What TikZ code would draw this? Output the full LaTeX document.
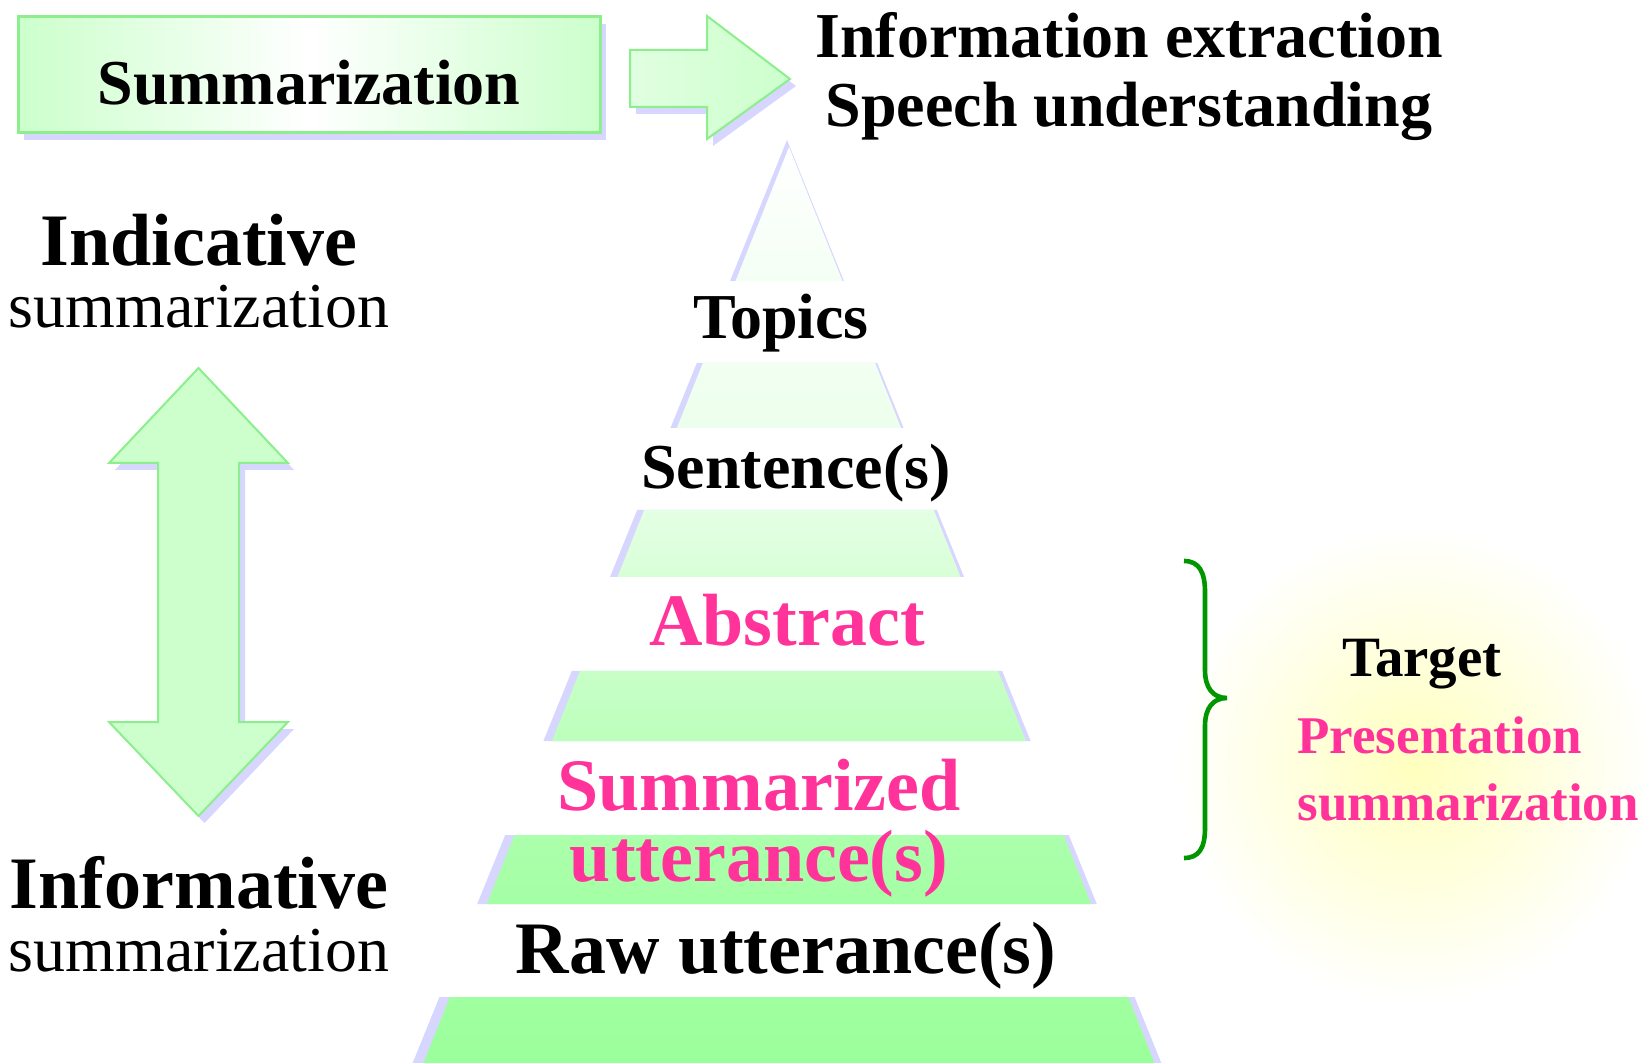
\documentclass[tikz,border=0pt]{standalone}
\usepackage{fontspec}
\setmainfont{Liberation Serif}
\definecolor{pinkt}{RGB}{255,51,153}
\definecolor{braceg}{RGB}{0,150,0}
\definecolor{edgeg}{RGB}{140,238,140}
\definecolor{lightg}{RGB}{204,255,204}
\definecolor{shadowc}{RGB}{214,214,255}
\definecolor{glowc}{RGB}{255,255,190}
% one band of the pyramid: top y, bottom y, top colour, bottom colour
\newcommand\pyrband[4]{%
  \pgfmathsetmacro\pbSLt{787-0.406*(#1-141)}%
  \pgfmathsetmacro\pbSRt{787+0.406*(#1-141)}%
  \pgfmathsetmacro\pbSLb{787-0.406*(#2-141)}%
  \pgfmathsetmacro\pbSRb{787+0.406*(#2-141)}%
  \pgfmathsetmacro\pbGLt{789-0.399*(#1-147)}%
  \pgfmathsetmacro\pbGRt{789+0.399*(#1-147)}%
  \pgfmathsetmacro\pbGLb{789-0.399*(#2-147)}%
  \pgfmathsetmacro\pbGRb{789+0.399*(#2-147)}%
  \fill[shadowc] (\pbSLt,#1) -- (\pbSRt,#1) -- (\pbSRb,#2) -- (\pbSLb,#2) -- cycle;
  \shade[top color=#3,bottom color=#4] (\pbGLt,#1) -- (\pbGRt,#1) -- (\pbGRb,#2) -- (\pbGLb,#2) -- cycle;
}
\begin{document}
\begin{tikzpicture}[x=0.5pt,y=-0.5pt,
  bigb/.style={font=\fontsize{37}{44}\selectfont\bfseries},
  midb/.style={font=\fontsize{32}{38}\selectfont\bfseries},
  midr/.style={font=\fontsize{32}{38}\selectfont},
  tgtb/.style={font=\fontsize{28.5}{34}\selectfont\bfseries},
  smallb/.style={font=\fontsize{26.5}{32}\selectfont\bfseries},
  lbl/.style={inner sep=0pt, anchor=base},
  shapeedge/.style={draw=edgeg, line width=1pt, line join=miter},
  shadowfill/.style={fill=shadowc, shift={(6,7)}}]
\useasboundingbox[fill=white] (0,0) rectangle (1644,1063);

% soft yellow glow behind the target text
\shade[inner color=glowc, outer color=white] (1415,765) circle (240);

% Summarization box
\fill[shadowfill] (18,17) rectangle (600,133);
\shade[left color=lightg, right color=lightg, middle color=white, draw=edgeg, line width=1.5pt]
  (18,17) rectangle (600,133);
\node[lbl,midb] (sumlabel) at (309,105) {Summarization};

% right arrow
\fill[shadowfill] (630,50) -- (707,50) -- (707,16) -- (790,79) -- (707,139) -- (707,107) -- (630,107) -- cycle;
\shade[left color=lightg!60!white, middle color=white, right color=lightg, shapeedge]
  (630,50) -- (707,50) -- (707,16) -- (790,79) -- (707,139) -- (707,107) -- (630,107) -- cycle;
\node[lbl,midb] (infoext) at (1129,58) {Information extraction};
\node[lbl,midb] (speech) at (1129,127) {Speech understanding};

% double arrow between indicative and informative
\fill[shadowfill] (198.5,368) -- (288,463) -- (239,463) -- (239,722) -- (288,722) -- (198.5,816)
  -- (109,722) -- (158,722) -- (158,463) -- (109,463) -- cycle;
\shade[top color=lightg, middle color=white, bottom color=lightg, shapeedge]
  (198.5,368) -- (288,463) -- (239,463) -- (239,722) -- (288,722) -- (198.5,816)
  -- (109,722) -- (158,722) -- (158,463) -- (109,463) -- cycle;
\node[lbl,bigb] (indic) at (199,266) {Indicative};
\node[lbl,midr] (indicsum) at (199,328) {summarization};
\node[lbl,bigb] (inform) at (199,908) {Informative};
\node[lbl,midr] (informsum) at (199,971) {summarization};

% pyramid: apex band
\fill[shadowc] (787,140) -- (843.9,281) -- (730.1,281) -- cycle;
\shade[top color=white, bottom color={rgb,255:red,244;green,255;blue,244}]
  (789,147) -- (842.5,281) -- (735.5,281) -- cycle;
% pyramid: lower bands
\pyrband{363}{428}{{rgb,255:red,242;green,255;blue,242}}{{rgb,255:red,236;green,255;blue,236}}
\pyrband{510}{577}{{rgb,255:red,228;green,255;blue,228}}{{rgb,255:red,216;green,255;blue,216}}
\pyrband{671}{741}{{rgb,255:red,200;green,255;blue,200}}{{rgb,255:red,188;green,255;blue,188}}
\pyrband{835}{904}{{rgb,255:red,172;green,255;blue,172}}{{rgb,255:red,164;green,255;blue,164}}
\pyrband{997}{1063}{{rgb,255:red,160;green,255;blue,160}}{{rgb,255:red,154;green,255;blue,154}}

% pyramid level labels
\node[lbl,midb] (topics) at (781,339) {Topics};
\node[lbl,midb] (sent) at (796,489) {Sentence(s)};
\node[lbl,bigb,text=pinkt] (abstr) at (787,646) {Abstract};
\node[lbl,bigb,text=pinkt] (summd) at (759,810) {Summarized};
\node[lbl,bigb,text=pinkt] (utter) at (759,881) {utterance(s)};
\node[lbl,bigb] (raw) at (786,973) {Raw utterance(s)};

% brace and target text
\draw[braceg, line width=2.3pt]
  (1184,561) .. controls (1199,561) and (1205,572) .. (1205,592)
  -- (1205,670) .. controls (1205,688) and (1213,698) .. (1227,698)
  .. controls (1213,698) and (1205,708) .. (1205,726)
  -- (1205,828) .. controls (1205,848) and (1199,858) .. (1184,858);
\node[lbl,tgtb] (target) at (1422,676) {Target};
\node[lbl,smallb,text=pinkt,anchor=base west] (pres) at (1297,753) {Presentation};
\node[lbl,smallb,text=pinkt,anchor=base west] (pressum) at (1297,820) {summarization};
\end{tikzpicture}
\end{document}
